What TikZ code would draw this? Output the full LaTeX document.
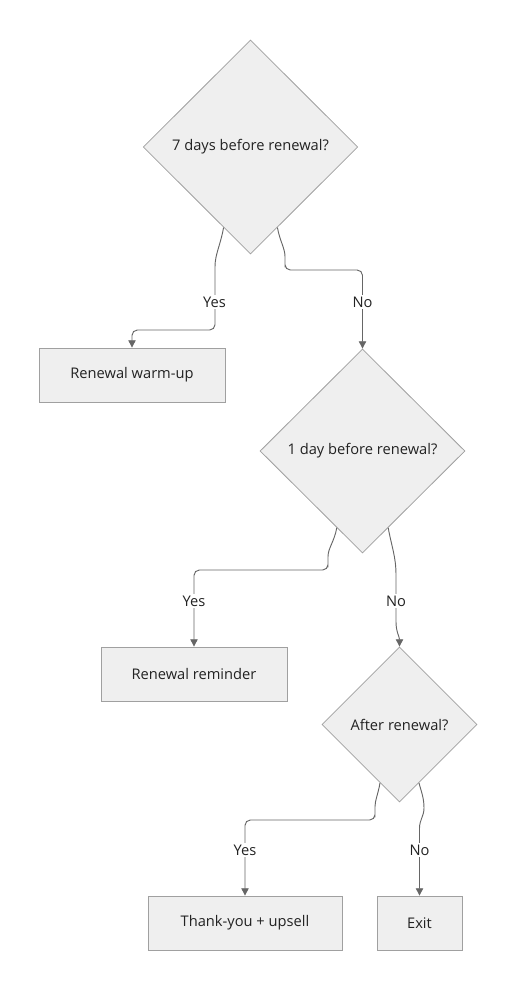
\documentclass[tikz,border=0pt]{standalone}
\usepackage{fontspec}
\setmainfont{Open Sans}
\usetikzlibrary{shapes.geometric,arrows.meta,calc}
\definecolor{nodefill}{RGB}{239,239,239}
\definecolor{nodeline}{RGB}{160,160,160}
\definecolor{edgeline}{RGB}{102,102,102}
\definecolor{txt}{RGB}{34,34,34}
\tikzset{
  decision/.style={diamond, draw=nodeline, fill=nodefill, line width=0.6pt, inner sep=0pt, shape aspect=1, font=\fontsize{11}{13}\selectfont, text=txt},
  actionbox/.style={rectangle, draw=nodeline, fill=nodefill, line width=0.6pt, minimum height=40.5pt, inner sep=0pt, font=\fontsize{11}{13}\selectfont, text=txt},
  edge/.style={draw=edgeline, line width=0.7pt, -{Triangle[length=5.5pt,width=5.5pt]}},
  elabel/.style={fill=white, inner sep=1.5pt, font=\fontsize{11}{13}\selectfont, text=txt}
}
\begin{document}
\begin{tikzpicture}[x=0.75pt,y=-0.75pt]
\useasboundingbox (0,0) rectangle (517,990);
% nodes
\node[decision, minimum width=161pt, minimum height=160.5pt] (d1) at (250.5,147) {7 days before renewal?};
\node[actionbox, minimum width=139.5pt] (r1) at (132,375) {Renewal warm-up};
\node[decision, minimum width=153.75pt, minimum height=153pt] (d2) at (362.5,451) {1 day before renewal?};
\node[actionbox, minimum width=139.5pt] (r2) at (194,674) {Renewal reminder};
\node[decision, minimum width=116.25pt, minimum height=116.25pt] (d3) at (399.5,724.5) {After renewal?};
\node[actionbox, minimum width=145.5pt] (r3) at (245,923) {Thank-you + upsell};
\node[actionbox, minimum width=63.75pt] (r4) at (419.5,923) {Exit};
% edge start points on the diamonds
\coordinate (a1) at ($(d1.south)!0.25!(d1.west)$);
\coordinate (b1) at ($(d1.south)!0.25!(d1.east)$);
\coordinate (a2) at ($(d2.south)!0.25!(d2.west)$);
\coordinate (b2) at ($(d2.south)!0.25!(d2.east)$);
\coordinate (a3) at ($(d3.south)!0.25!(d3.west)$);
\coordinate (b3) at ($(d3.south)!0.25!(d3.east)$);
% edges
\draw[edge, rounded corners=4pt] (a1) to[out=-100,in=90] (215,272) -- (215,330) -- (132,330) -- (r1.north);
\draw[edge, rounded corners=4pt] (b1) to[out=-80,in=90] (285,262) -- (285,270) -- (362.5,270) -- (d2.north);
\draw[edge, rounded corners=4pt] (a2) to[out=-100,in=90] (328,562) -- (328,570) -- (194,570) -- (r2.north);
\draw[edge] (b2) to[out=-80,in=90] (396,575) -- (396,622) to[out=-90,in=90] (d3.north);
\draw[edge, rounded corners=4pt] (a3) to[out=-100,in=90] (375,812) -- (375,820) -- (245,820) -- (r3.north);
\draw[edge] (b3) to[out=-75,in=90] (424,808) to[out=-90,in=90] (419.5,828) -- (r4.north);
% edge labels
\node[elabel] (ly1) at (214.5,302) {Yes};
\node[elabel] (ln1) at (362.5,302) {No};
\node[elabel] (ly2) at (194,601) {Yes};
\node[elabel] (ln2) at (396,601) {No};
\node[elabel] (ly3) at (245,850) {Yes};
\node[elabel] (ln3) at (419.5,850) {No};
\end{tikzpicture}
\end{document}
